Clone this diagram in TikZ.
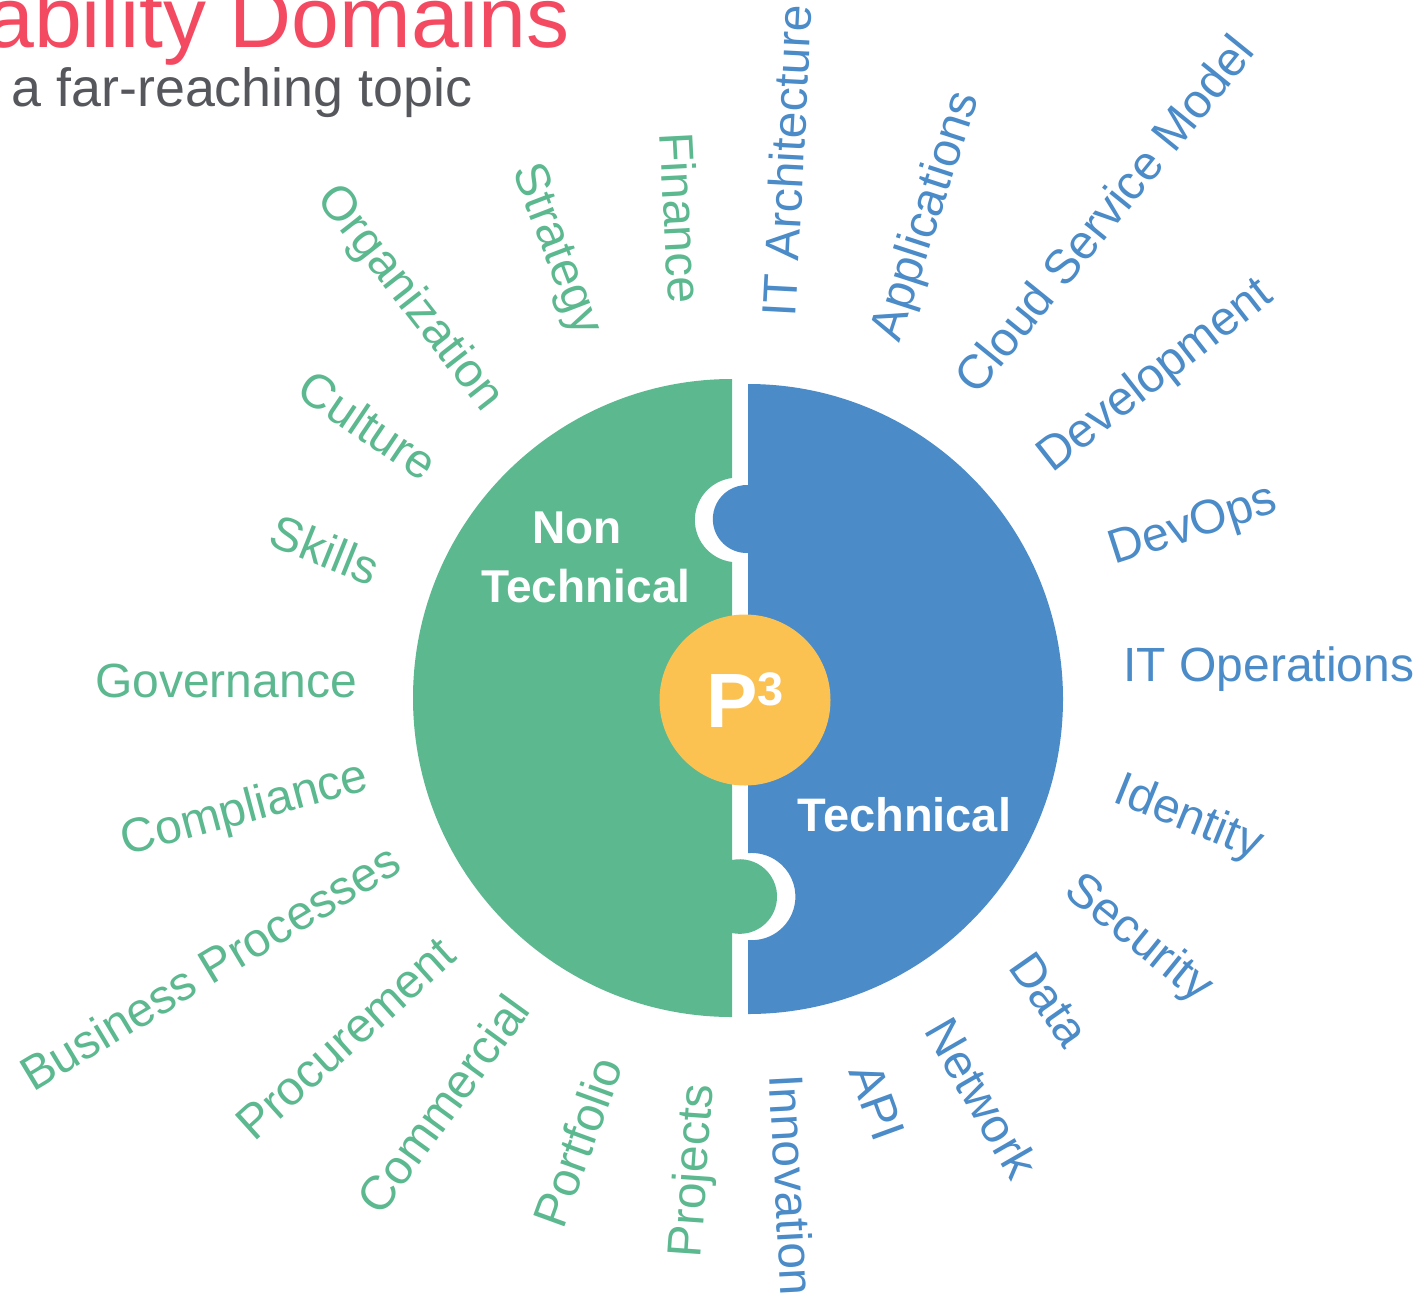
\documentclass[tikz,border=0pt]{standalone}
\usepackage{fontspec}
\setmainfont{Liberation Sans}

\definecolor{nontechgreen}{HTML}{5BB88F}
\definecolor{techblue}{HTML}{4A8BC8}
\definecolor{pyellow}{HTML}{FBC252}
\definecolor{titlered}{HTML}{F34A62}
\definecolor{subgray}{HTML}{55575C}

\newcommand{\domainfont}{\fontsize{48}{58}\selectfont}
\newcommand{\piecefont}{\bfseries\fontsize{46}{56}\selectfont}

\begin{document}
\begin{tikzpicture}[x=1pt, y=1pt,
    lbl/.style={inner sep=0pt, font=\domainfont, text height=34pt, text depth=0pt},
    tech/.style={lbl, text=techblue},
    nontech/.style={lbl, text=nontechgreen},
    piece/.style={anchor=base, inner sep=0pt, text=white, font=\piecefont}]
   \useasboundingbox (0,0) rectangle (1421,-1296);

   \node[anchor=base west, inner sep=0pt, text=titlered, font=\fontsize{86}{92}\selectfont] (title) at (-14,-47) {ability Domains};
   \node[anchor=base west, inner sep=0pt, text=subgray, font=\fontsize{53.8}{62}\selectfont] (subtitle) at (11.5,-106) {a far-reaching topic};

   % the two puzzle halves
   \fill[nontechgreen] (732,-379) arc[start angle=90, end angle=270, radius=319]
      -- (732,-933) arc[start angle=258, end angle=462, radius=37.3]
      -- (732,-562) arc[start angle=263, end angle=97, radius=42.3]
      -- cycle;
   \fill[techblue] (748,-384) arc[start angle=90, end angle=-90, radius=315]
      -- (748,-940) arc[start angle=265, end angle=455, radius=43.6]
      -- (748,-553) arc[start angle=272, end angle=88, radius=34]
      -- cycle;

   \node[piece] (non) at (577,-543) {Non};
   \node[piece] (nontechname) at (586,-602) {Technical};
   \node[piece, font=\bfseries\fontsize{47}{56}\selectfont] (techname) at (904.5,-831) {Technical};

   \node[circle, fill=pyellow, minimum size=171pt, inner sep=0pt, text=white, font=\bfseries] (p3) at (745,-700)
      {{\fontsize{77}{77}\selectfont P}\raisebox{22pt}{\fontsize{47}{47}\selectfont 3}};

   \node[tech, rotate=87]  (itarch)  at (787,-161)  {IT Architecture};
   \node[tech, rotate=72]  (apps)    at (923,-215)  {Applications};
   \node[tech, rotate=51]  (cloud)   at (1104,-214) {Cloud Service Model};
   \node[tech, rotate=38]  (dev)     at (1153,-373) {Development};
   \node[tech, rotate=18]  (devops)  at (1192,-522) {DevOps};
   \node[tech]             (itops)   at (1269,-664) {IT Operations};
   \node[tech, rotate=-22] (ident)   at (1190,-815) {Identity};
   \node[tech, rotate=-39] (sec)     at (1141,-936) {Security};
   \node[tech, rotate=-55] (data)    at (1050,-999) {Data};
   \node[tech, rotate=-60] (net)     at (982,-1098) {Network};
   \node[tech, rotate=-70] (api)     at (878,-1102) {API};
   \node[tech, rotate=-87] (innov)   at (792,-1185) {Innovation};

   \node[nontech, rotate=-87] (fin)    at (681,-218)  {Finance};
   \node[nontech, rotate=-69] (strat)  at (560,-248)  {Strategy};
   \node[nontech, rotate=-52] (org)    at (413,-296)  {Organization};
   \node[nontech, rotate=-34] (cult)   at (368,-425)  {Culture};
   \node[nontech, rotate=-22] (skills) at (325,-550)  {Skills};
   \node[nontech]             (gov)    at (226,-680)  {Governance};
   \node[nontech, rotate=15]  (comp)   at (244,-806)  {Compliance};
   \node[nontech, rotate=31]  (bp)     at (210,-967)  {Business Processes};
   \node[nontech, rotate=42]  (proc)   at (345,-1038) {Procurement};
   \node[nontech, rotate=54]  (comm)   at (443,-1104) {Commercial};
   \node[nontech, rotate=70]  (port)   at (578,-1142) {Portfolio};
   \node[nontech, rotate=86]  (proj)   at (690,-1171) {Projects};

\end{tikzpicture}
\end{document}
